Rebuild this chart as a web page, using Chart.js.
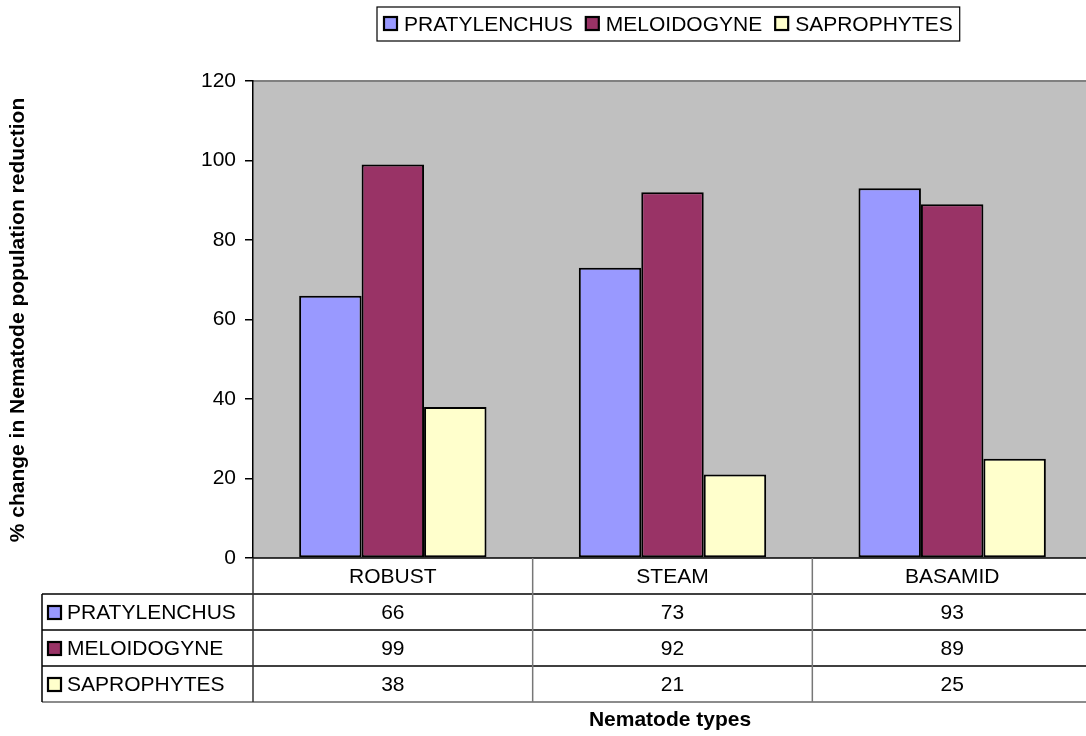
<!DOCTYPE html>
<html>
<head>
<meta charset="utf-8">
<script src="https://cdn.jsdelivr.net/npm/chart.js@4/dist/chart.umd.min.js"></script>
<style>
  html, body { margin: 0; padding: 0; background: #fff; overflow: hidden; }
  canvas { display: block; }
</style>
</head>
<body>
<canvas id="grafico" width="1092" height="736"></canvas>
<script>
'use strict';

const CATEGORIAS = ['ROBUST', 'STEAM', 'BASAMID'];
const PRATYLENCHUS = [66, 73, 93];
const MELOIDOGYNE = [99, 92, 89];
const SAPROPHYTES = [38, 21, 25];
const SERIES = ['PRATYLENCHUS', 'MELOIDOGYNE', 'SAPROPHYTES'];
const COLORES = ['#9999ff', '#993366', '#ffffcc'];
const TITULO_Y = '% change in Nematode population reduction';
const TITULO_X = 'Nematode types';

const FUENTE = "'Liberation Sans', Arial, sans-serif";
const TAM = 21;
const FILA = 36;

const cuadro = (ctx, x, y, color) => {
    ctx.fillStyle = color;
    ctx.fillRect(x, y, 13, 13);
    ctx.strokeStyle = '#000';
    ctx.lineWidth = 2.2;
    ctx.strokeRect(x, y, 13, 13);
};

const linea = (ctx, x1, y1, x2, y2, color, w) => {
    ctx.strokeStyle = color;
    ctx.lineWidth = w;
    ctx.beginPath();
    ctx.moveTo(x1, y1);
    ctx.lineTo(x2, y2);
    ctx.stroke();
};

const extras = {
    id: 'extras',
    beforeDraw(chart) {
        const { ctx, chartArea: a } = chart;
        ctx.save();
        ctx.fillStyle = '#c0c0c0';
        ctx.fillRect(a.left, a.top, a.right - a.left, a.bottom - a.top);
        linea(ctx, a.left, a.top, a.right, a.top, '#808080', 2);
        ctx.restore();
    },
    afterDraw(chart) {
        const { ctx, chartArea: a, scales } = chart;
        const x = scales.x;
        const datos = chart.data.datasets.map((d) => d.data);
        const ancho = (a.right - a.left) / CATEGORIAS.length;
        const izq = 42;
        const top = a.bottom;
        const fondo = top + FILA * 4;
        ctx.save();

        // tabla de datos
        linea(ctx, a.left, top, a.right, top, '#000', 1.5);
        for (let r = 1; r <= 4; r++) {
            linea(ctx, izq, top + FILA * r, a.right, top + FILA * r, r === 4 ? '#666' : '#000', 1.5);
        }
        linea(ctx, izq, top + FILA, izq, fondo, '#000', 1.5);
        linea(ctx, a.left, top, a.left, fondo, '#333', 1.5);
        for (let i = 1; i < CATEGORIAS.length; i++) {
            const cx = a.left + ancho * i;
            linea(ctx, cx, top, cx, fondo, '#777', 1.5);
        }

        ctx.font = `${TAM}px ${FUENTE}`;
        ctx.textAlign = 'center';
        ctx.textBaseline = 'middle';
        CATEGORIAS.forEach((c, i) => {
            const cx = x.getPixelForValue(i);
            ctx.fillStyle = '#000';
            ctx.fillText(c, cx, top + FILA / 2 + 1);
            datos.forEach((serie, s) => {
                ctx.fillText(String(serie[i]), cx, top + FILA * (s + 1) + FILA / 2 + 1);
            });
        });
        SERIES.forEach((nombre, s) => {
            const cy = top + FILA * (s + 1) + FILA / 2;
            cuadro(ctx, 48, cy - 6, COLORES[s]);
            ctx.fillStyle = '#000';
            ctx.textAlign = 'left';
            ctx.fillText(nombre, 67, cy + 1);
        });

        // leyenda
        let lx = 384;
        SERIES.forEach((nombre, s) => {
            cuadro(ctx, lx, 17, COLORES[s]);
            ctx.fillStyle = '#000';
            ctx.textAlign = 'left';
            ctx.fillText(nombre, lx + 20, 25);
            lx += 20 + ctx.measureText(nombre).width + 13;
        });
        ctx.strokeStyle = '#000';
        ctx.lineWidth = 1.2;
        ctx.strokeRect(377, 7, lx - 377 - 6, 34);

        // títulos
        ctx.font = `bold ${TAM}px ${FUENTE}`;
        ctx.textAlign = 'center';
        ctx.fillText(TITULO_X, 670, 720);
        ctx.translate(18, 320);
        ctx.rotate(-Math.PI / 2);
        ctx.fillText(TITULO_Y, 0, 0);
        ctx.restore();
    },
};

const dataset = (label, data, color) => ({
    label,
    data,
    backgroundColor: color,
    borderColor: '#000',
    borderWidth: 2,
    borderSkipped: false,
    categoryPercentage: 0.67,
    barPercentage: 1.0,
});

new Chart(document.getElementById('grafico'), {
    type: 'bar',
    data: {
        labels: CATEGORIAS,
        datasets: [
            dataset(SERIES[0], PRATYLENCHUS, COLORES[0]),
            dataset(SERIES[1], MELOIDOGYNE, COLORES[1]),
            dataset(SERIES[2], SAPROPHYTES, COLORES[2]),
        ],
    },
    options: {
        responsive: false,
        animation: false,
        devicePixelRatio: 1,
        layout: { padding: { top: 81, right: 0, bottom: 178, left: 0 } },
        plugins: {
            legend: { display: false },
            tooltip: { enabled: false },
        },
        scales: {
            x: { display: false },
            y: {
                min: 0,
                max: 120,
                afterFit: (scale) => { scale.width = 253; },
                ticks: {
                    stepSize: 20,
                    color: '#000',
                    padding: 9,
                    font: { family: FUENTE, size: TAM },
                },
                grid: { drawOnChartArea: false, color: '#000', tickLength: 8, lineWidth: 1.5 },
                border: { display: true, color: '#000', width: 1.5 },
            },
        },
    },
    plugins: [extras],
});
</script>
</body>
</html>
